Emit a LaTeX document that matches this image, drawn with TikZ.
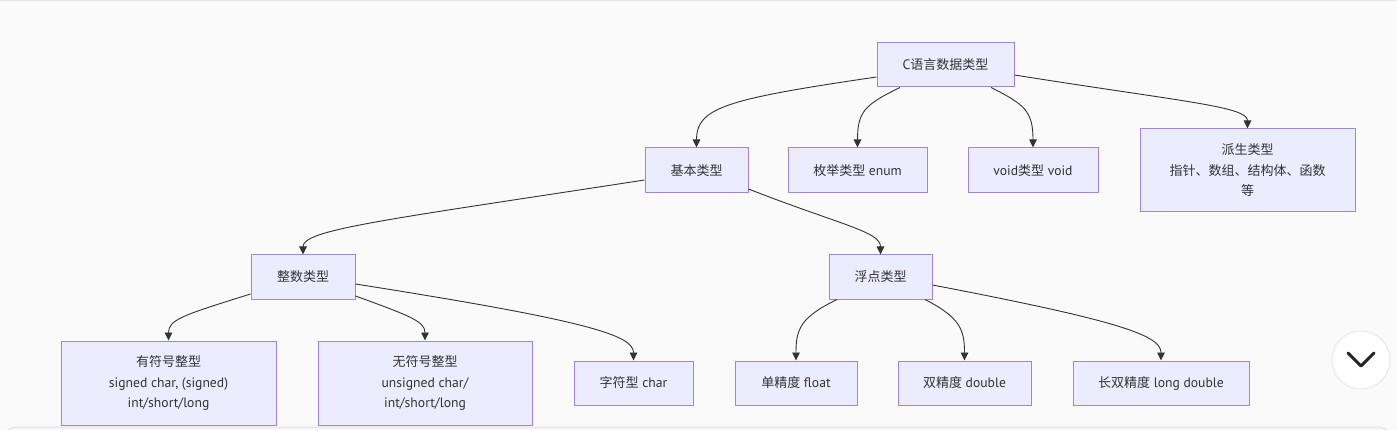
\documentclass[tikz,border=0pt]{standalone}
\usepackage{fontspec}
\setmainfont{PT Sans}[Scale=1.05]
\newfontfamily\cjk{Noto Sans CJK SC}
\usetikzlibrary{arrows.meta}
\definecolor{bg}{HTML}{FAFAFA}
\definecolor{boxfill}{HTML}{ECECFF}
\definecolor{boxline}{HTML}{A283E0}
\definecolor{edgecol}{HTML}{333333}
\definecolor{txt}{HTML}{333333}
\definecolor{btnline}{HTML}{E8E8EC}
\definecolor{panelline}{HTML}{E0E0E8}
\definecolor{panelfill}{HTML}{F6F6F9}
\tikzset{
  box/.style={draw=boxline, fill=boxfill, line width=1pt, inner sep=0pt, align=center,
    font=\fontsize{13}{20.5}\selectfont, text=txt},
  conn/.style={draw=edgecol, line width=0.9pt, -{Triangle[length=8pt,width=7.5pt]}}
}
\begin{document}
\begin{tikzpicture}[x=1pt,y=-1pt]
\useasboundingbox (0,0) rectangle (1397,430);
\begin{scope}
\clip (0,0) rectangle (1397,430);
\fill[bg] (0,0) rectangle (1397,430);
\draw[btnline, line width=1pt] (0,0.5) -- (1397,0.5);
\draw[panelline, fill=panelfill, line width=1pt, rounded corners=14pt] (3,470) rectangle (1392,427);
\end{scope}

% nodes
\node[box, minimum width=137pt, minimum height=44pt] (root) at (945.5,65) {C{\cjk 语言数据类型}};
\node[box, minimum width=103pt, minimum height=45pt] (basic) at (696.5,170.5) {{\cjk 基本类型}};
\node[box, minimum width=139pt, minimum height=45pt] (enum) at (857.5,170.5) {{\cjk 枚举类型} enum};
\node[box, minimum width=130pt, minimum height=45pt] (void) at (1033,170.5) {void{\cjk 类型} void};
\node[box, minimum width=215pt, minimum height=83pt] (deriv) at (1247.5,170.5) {{\cjk 派生类型}\\{\cjk 指针、数组、结构体、函数}\\{\cjk 等}};
\node[box, minimum width=104pt, minimum height=44pt] (int) at (303,277) {{\cjk 整数类型}};
\node[box, minimum width=103pt, minimum height=44pt] (flt) at (880.5,277) {{\cjk 浮点类型}};
\node[box, minimum width=215pt, minimum height=84pt] (sint) at (168.5,383) {{\cjk 有符号整型}\\signed char, (signed)\\int/short/long};
\node[box, minimum width=214pt, minimum height=84pt] (uint) at (425,383) {{\cjk 无符号整型}\\unsigned char/\\int/short/long};
\node[box, minimum width=119pt, minimum height=44pt] (chr) at (633.5,383) {{\cjk 字符型} char};
\node[box, minimum width=122pt, minimum height=44pt] (sgl) at (796,383) {{\cjk 单精度} float};
\node[box, minimum width=133pt, minimum height=44pt] (dbl) at (964.5,383) {{\cjk 双精度} double};
\node[box, minimum width=176pt, minimum height=44pt] (ldbl) at (1161,383) {{\cjk 长双精度} long double};

% connectors
\draw[conn] ([yshift=-12pt]root.west) .. controls +(-150,22) and +(0,-40) .. (basic.north);
\draw[conn] ([xshift=-45.5pt]root.south) .. controls +(-35,17) and +(0,-36) .. (enum.north);
\draw[conn] ([xshift=45.5pt]root.south) .. controls +(34,17) and +(0,-36) .. (void.north);
\draw[conn] ([yshift=-10pt]root.east) .. controls +(170,27) and +(0,-22) .. (deriv.north);
\draw[conn] ([yshift=-9.5pt]basic.west) .. controls +(-260,40) and +(0,-25) .. (int.north);
\draw[conn] ([yshift=-18.5pt]basic.east) .. controls +(92,36) and +(0,-23) .. (flt.north);
\draw[conn] ([yshift=-17pt]int.west) .. controls +(-67,21) and +(0,-21) .. (sint.north);
\draw[conn] ([yshift=-19pt]int.east) .. controls +(55,20) and +(0,-19) .. (uint.north);
\draw[conn] ([yshift=-7pt]int.east) .. controls +(235,37) and +(0,-25) .. (chr.north);
\draw[conn] ([xshift=-43.5pt]flt.south) .. controls +(-37,18) and +(0,-31) .. (sgl.north);
\draw[conn] ([xshift=44.5pt]flt.south) .. controls +(35,18) and +(0,-31) .. (dbl.north);
\draw[conn] ([yshift=-8pt]flt.east) .. controls +(188,36) and +(0,-25) .. (ldbl.north);

% scroll button
\node[circle, fill=white, draw=btnline, line width=1pt, minimum size=58pt, inner sep=0pt] (btn) at (1361,360) {};
\draw[line width=3pt, line cap=round, line join=round, color=black!85] (1348,353) -- (1361,366) -- (1374,353);
\end{tikzpicture}
\end{document}
